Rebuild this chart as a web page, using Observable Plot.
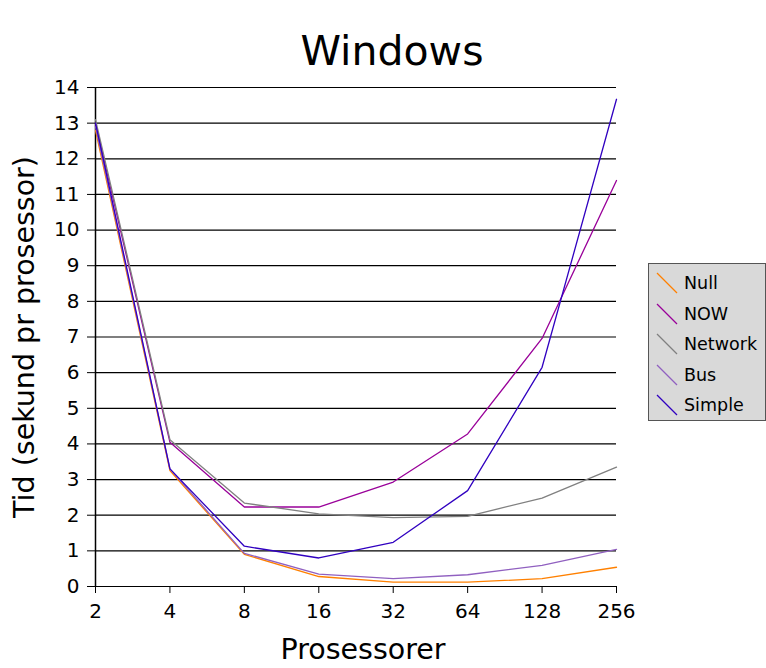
<!DOCTYPE html>
<html>
<head>
<meta charset="utf-8">
<script src="https://cdn.jsdelivr.net/npm/d3@7"></script>
<script src="https://cdn.jsdelivr.net/npm/@observablehq/plot@0.6"></script>
<style>
  body { margin: 0; background: #fff; font-family: "DejaVu Sans", sans-serif; }
  #wrap { position: relative; width: 766px; height: 668px; }
  #legend { position: absolute; left: 648px; top: 263px; width: 116px; height: 156px;
            background: #d9d9d9; border: 1px solid #555; }
  .item { position: absolute; left: 5px; height: 30px; font-size: 17.5px; color: #000; }
  .item svg { position: absolute; left: 0; top: 0; }
  .item span { position: absolute; left: 30px; top: 4px; white-space: nowrap; }
</style>
</head>
<body>
<div id="wrap"></div>
<script>
const processors = [2, 4, 8, 16, 32, 64, 128, 256];
const seriesNames = ["Null", "NOW", "Network", "Bus", "Simple"];
const seriesColors = ["#ff8000", "#990099", "#808080", "#9060c0", "#3000c0"];
const nullValues    = [12.8, 3.25, 0.90, 0.28, 0.12, 0.12, 0.22, 0.54];
const nowValues     = [13.0, 4.05, 2.23, 2.23, 2.93, 4.28, 6.96, 11.39];
const networkValues = [13.1, 4.12, 2.34, 2.04, 1.93, 1.97, 2.48, 3.35];
const busValues     = [12.9, 3.30, 0.93, 0.35, 0.22, 0.33, 0.59, 1.04];
const simpleValues  = [13.0, 3.30, 1.13, 0.80, 1.24, 2.69, 6.15, 13.67];
const yTicks = [0,1,2,3,4,5,6,7,8,9,10,11,12,13,14];

const allValues = [nullValues, nowValues, networkValues, busValues, simpleValues];
const rows = [];
seriesNames.forEach((s, i) => processors.forEach((p, j) => rows.push({series: s, p, t: allValues[i][j]})));

const chart = Plot.plot({
  width: 766, height: 668,
  marginLeft: 95, marginRight: 150, marginTop: 87, marginBottom: 82,
  style: {fontFamily: "DejaVu Sans, sans-serif", fontSize: "20px", color: "#000", background: "#fff"},
  x: {type: "log", base: 2, domain: [2, 256], ticks: processors, tickFormat: d => String(d), label: null},
  y: {domain: [0, 14], ticks: yTicks, label: null},
  color: {domain: seriesNames, range: seriesColors},
  marks: [
    Plot.ruleY(yTicks, {stroke: "#000", strokeWidth: 1.2}),
    Plot.ruleX([2], {stroke: "#000", strokeWidth: 1.5}),
    Plot.axisY({ticks: yTicks, tickSize: 8, tickPadding: 8, fontSize: 20, stroke: "#000", label: null}),
    Plot.axisX({ticks: processors, tickSize: 7, tickPadding: 10, fontSize: 20, stroke: "#000", label: null, tickFormat: d => String(d)}),
    Plot.line(rows, {x: "p", y: "t", z: "series", stroke: "series", strokeWidth: 1.3}),
    Plot.text(["Windows"], {frameAnchor: "top", dy: -52, dx: 36, fontSize: 41, fill: "#000"}),
    Plot.text(["Tid (sekund pr prosessor)"], {frameAnchor: "left", textAnchor: "middle", dx: -71, dy: 0, rotate: -90, fontSize: 28.5, fill: "#000"}),
    Plot.text(["Prosessorer"], {frameAnchor: "bottom", dy: 72, dx: 7, fontSize: 28.5, fill: "#000"})
  ]
});
const wrap = document.getElementById("wrap");
wrap.appendChild(chart);

const legend = document.createElement("div");
legend.id = "legend";
seriesNames.forEach((s, i) => {
  const item = document.createElement("div");
  item.className = "item";
  item.style.top = (5 + i * 30.5) + "px";
  item.innerHTML = `<svg width="26" height="28"><line x1="3" y1="4" x2="23" y2="24" stroke="${seriesColors[i]}" stroke-width="1.3"/></svg><span>${s}</span>`;
  legend.appendChild(item);
});
wrap.appendChild(legend);
</script>
</body>
</html>
